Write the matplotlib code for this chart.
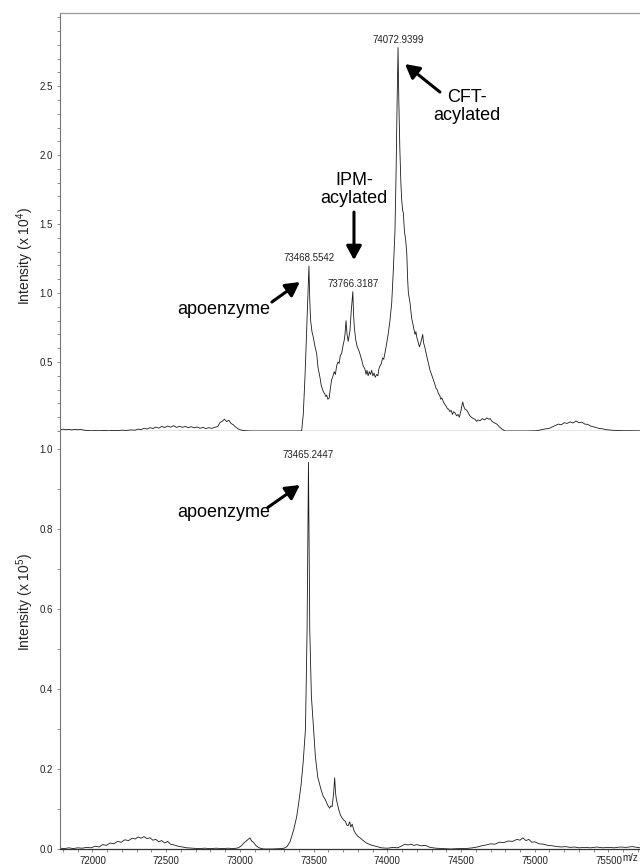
import matplotlib
matplotlib.use("Agg")
import matplotlib.pyplot as plt
from matplotlib.ticker import MultipleLocator, FixedLocator, FormatStrFormatter
import numpy as np

# ---------------- data ----------------
mz_top = [71780, 71800, 71820, 71840, 71860, 71880, 71900, 71920, 71940, 71960,
          71990, 72020, 72050, 72080, 72110, 72140, 72170, 72200, 72230, 72260,
          72290, 72310, 72330, 72350, 72370, 72390, 72410, 72430, 72450, 72470,
          72490, 72510, 72530, 72550, 72570, 72590, 72610, 72630, 72650, 72670,
          72690, 72710, 72730, 72750, 72770, 72790, 72810, 72830, 72850, 72865,
          72880, 72895, 72910, 72925, 72940, 72955, 72970, 72990, 73010, 73040,
          73080, 73150, 73250, 73350, 73419, 73430, 73442, 73455, 73463, 73468.5542,
          73474, 73480, 73489, 73498, 73508, 73521, 73530, 73543, 73552, 73566,
          73575, 73583, 73589, 73597, 73606, 73614, 73622, 73632, 73640, 73648,
          73656, 73665, 73673, 73682, 73690, 73700, 73708, 73713, 73720, 73727,
          73735, 73741, 73747, 73754, 73766.3187, 73771, 73776, 73786, 73796, 73805,
          73814, 73825, 73837, 73848, 73856, 73862, 73870, 73878, 73886, 73894,
          73902, 73910, 73918, 73928, 73936, 73943, 73950, 73960, 73968, 73976,
          73984, 73995, 74007, 74018, 74030, 74041, 74052, 74060, 74066, 74072.9399,
          74078, 74085, 74092, 74098, 74104, 74109, 74116, 74125, 74132, 74138,
          74143, 74154, 74165, 74177, 74188, 74194, 74200, 74210, 74218, 74224,
          74232, 74240, 74246, 74256, 74266, 74279, 74290, 74300, 74313, 74322,
          74330, 74338, 74347, 74355, 74363, 74370, 74381, 74392, 74400, 74408,
          74415, 74425, 74433, 74442, 74450, 74460, 74470, 74480, 74489, 74500,
          74507, 74512, 74518, 74526, 74539, 74550, 74560, 74570, 74584, 74595,
          74605, 74615, 74630, 74645, 74660, 74675, 74690, 74697, 74710, 74725,
          74743, 74760, 74780, 74799, 74870, 74950, 75010, 75040, 75070, 75100,
          75120, 75140, 75160, 75180, 75200, 75220, 75240, 75260, 75280, 75300,
          75320, 75340, 75360, 75380, 75400, 75420, 75440, 75460, 75480, 75500,
          75530, 75560, 75600, 75650, 75714]
int_top = [0.010, 0.013, 0.009, 0.012, 0.008, 0.012, 0.009, 0.011, 0.007, 0.004,
           0.002, 0.003, 0.002, 0.004, 0.002, 0.004, 0.003, 0.006, 0.004, 0.008,
           0.006, 0.014, 0.010, 0.020, 0.014, 0.024, 0.018, 0.028, 0.021, 0.033,
           0.025, 0.036, 0.028, 0.038, 0.026, 0.034, 0.027, 0.033, 0.024, 0.031,
           0.023, 0.029, 0.020, 0.026, 0.018, 0.024, 0.019, 0.027, 0.032, 0.062,
           0.070, 0.086, 0.068, 0.078, 0.055, 0.045, 0.030, 0.015, 0.006, 0.002,
           0.000, 0.000, 0.000, 0.000, 0.000, 0.12, 0.40, 0.80, 1.05, 1.196,
           0.95, 0.80, 0.72, 0.68, 0.62, 0.56, 0.46, 0.39, 0.33, 0.285,
           0.27, 0.25, 0.26, 0.23, 0.24, 0.31, 0.37, 0.40, 0.43, 0.41,
           0.47, 0.50, 0.49, 0.55, 0.56, 0.62, 0.66, 0.70, 0.80, 0.70,
           0.65, 0.69, 0.73, 0.85, 1.01, 0.85, 0.756, 0.66, 0.61, 0.59,
           0.56, 0.52, 0.47, 0.45, 0.41, 0.44, 0.40, 0.43, 0.41, 0.44,
           0.40, 0.42, 0.39, 0.41, 0.40, 0.45, 0.47, 0.49, 0.53, 0.52,
           0.565, 0.63, 0.71, 0.80, 0.93, 1.17, 1.45, 1.90, 2.35, 2.78,
           2.40, 2.05, 1.80, 1.67, 1.60, 1.58, 1.45, 1.38, 1.29, 1.10,
           1.00, 0.93, 0.82, 0.756, 0.70, 0.72, 0.68, 0.64, 0.61, 0.63,
           0.66, 0.70, 0.64, 0.60, 0.55, 0.49, 0.44, 0.41, 0.37, 0.34,
           0.31, 0.30, 0.27, 0.26, 0.23, 0.24, 0.21, 0.19, 0.18, 0.16,
           0.16, 0.14, 0.15, 0.12, 0.14, 0.13, 0.11, 0.12, 0.10, 0.15,
           0.19, 0.21, 0.18, 0.16, 0.15, 0.13, 0.11, 0.10, 0.09, 0.085,
           0.07, 0.08, 0.075, 0.09, 0.08, 0.095, 0.085, 0.09, 0.07, 0.06,
           0.05, 0.03, 0.012, 0.000, 0.000, 0.000, 0.002, 0.008, 0.015, 0.020,
           0.030, 0.040, 0.050, 0.045, 0.060, 0.055, 0.066, 0.058, 0.072, 0.060,
           0.064, 0.050, 0.048, 0.035, 0.030, 0.024, 0.018, 0.016, 0.010, 0.008,
           0.005, 0.004, 0.002, 0.002, 0.001]

mz_bot = [71780, 71810, 71840, 71870, 71900, 71930, 71960, 71990, 72020, 72045,
          72070, 72095, 72120, 72145, 72170, 72195, 72220, 72245, 72270, 72290,
          72310, 72330, 72350, 72370, 72390, 72410, 72430, 72450, 72470, 72490,
          72510, 72530, 72555, 72580, 72610, 72640, 72680, 72720, 72760, 72800,
          72840, 72880, 72920, 72960, 72990, 73010, 73030, 73050, 73068, 73080,
          73092, 73110, 73130, 73160, 73220, 73280, 73300, 73320, 73340, 73365,
          73385, 73399, 73415, 73429, 73445, 73456, 73465.2447, 73474, 73485, 73497,
          73512, 73528, 73551, 73565, 73580, 73595, 73609, 73618, 73626, 73636,
          73643, 73649, 73655, 73663, 73671, 73682, 73694, 73705, 73716, 73725,
          73734, 73745, 73752, 73762, 73772, 73784, 73800, 73818, 73840, 73863,
          73890, 73931, 73960, 74000, 74040, 74070, 74100, 74120, 74140, 74160,
          74180, 74200, 74230, 74260, 74290, 74330, 74380, 74430, 74480, 74530,
          74580, 74610, 74640, 74670, 74700, 74730, 74760, 74790, 74820, 74850,
          74880, 74900, 74920, 74940, 74960, 74980, 75000, 75030, 75060, 75090,
          75120, 75150, 75180, 75210, 75240, 75270, 75300, 75340, 75380, 75420,
          75460, 75500, 75540, 75580, 75620, 75660, 75714]
int_bot = [0.002, 0.001, 0.003, 0.001, 0.003, 0.002, 0.004, 0.003, 0.007, 0.005,
           0.011, 0.009, 0.015, 0.013, 0.019, 0.017, 0.023, 0.021, 0.027, 0.025,
           0.030, 0.027, 0.031, 0.026, 0.028, 0.022, 0.024, 0.018, 0.021, 0.015,
           0.019, 0.012, 0.010, 0.007, 0.005, 0.003, 0.002, 0.001, 0.002, 0.001,
           0.002, 0.001, 0.002, 0.001, 0.003, 0.008, 0.016, 0.022, 0.028, 0.020,
           0.017, 0.008, 0.003, 0.000, 0.000, 0.001, 0.002, 0.006, 0.018, 0.048,
           0.080, 0.115, 0.160, 0.215, 0.300, 0.550, 0.967, 0.550, 0.383, 0.316,
           0.232, 0.180, 0.148, 0.132, 0.123, 0.110, 0.102, 0.108, 0.106, 0.140,
           0.178, 0.140, 0.123, 0.110, 0.098, 0.085, 0.077, 0.072, 0.069, 0.060,
           0.058, 0.068, 0.055, 0.062, 0.048, 0.039, 0.032, 0.027, 0.020, 0.014,
           0.010, 0.006, 0.003, 0.002, 0.004, 0.003, 0.008, 0.012, 0.010, 0.012,
           0.009, 0.011, 0.008, 0.009, 0.004, 0.002, 0.001, 0.000, 0.001, 0.001,
           0.003, 0.005, 0.008, 0.010, 0.013, 0.012, 0.017, 0.016, 0.020, 0.019,
           0.024, 0.022, 0.028, 0.021, 0.024, 0.017, 0.018, 0.013, 0.012, 0.009,
           0.008, 0.006, 0.005, 0.006, 0.004, 0.005, 0.003, 0.004, 0.003, 0.005,
           0.003, 0.004, 0.003, 0.005, 0.004, 0.006, 0.003]

peaks_top = [73468.5542, 73766.3187, 74072.9399]
peaks_bot = [73465.2447]

x_ticks = [72000, 72500, 73000, 73500, 74000, 74500, 75000, 75500]
y_ticks_top = [0.5, 1.0, 1.5, 2.0, 2.5]
y_ticks_bot = [0.0, 0.2, 0.4, 0.6, 0.8, 1.0]

ylabel_top = "Intensity (x 10$^{4}$)"
ylabel_bot = "Intensity (x 10$^{5}$)"
xunit_label = "m/z"

# ---------------- style ----------------
plt.rcParams["font.family"] = ["Liberation Sans", "DejaVu Sans"]
plt.rcParams["mathtext.fontset"] = "custom"
plt.rcParams["mathtext.rm"] = "Liberation Sans"
plt.rcParams["mathtext.it"] = "Liberation Sans"
SMALL = ["Liberation Sans", "DejaVu Sans"]
small_fs = 7
line_col = "#1a1a1a"
spine_col = "#777777"

fig = plt.figure(figsize=(6.4, 8.66), dpi=100)
W, H = 640, 866
ax1 = fig.add_axes([60 / W, 1 - 431 / H, 580 / W, 418 / H])
ax2 = fig.add_axes([60 / W, 1 - 849 / H, 580 / W, 418 / H])

xlim = (71780, 75714)
for ax in (ax1, ax2):
    ax.set_xlim(*xlim)
    ax.spines["right"].set_visible(False)
    ax.spines["left"].set_color(spine_col)
    ax.spines["left"].set_linewidth(0.8)
    ax.tick_params(axis="y", which="both", direction="out", colors=spine_col,
                   labelcolor="#222222", width=0.6)
    ax.tick_params(axis="y", which="major", length=2.5, pad=2.5)
    ax.tick_params(axis="y", which="minor", length=2)

ax1.plot(mz_top, int_top, color=line_col, lw=0.6)
ax2.plot(mz_bot, int_bot, color=line_col, lw=0.6)

ax1.set_ylim(0, 3.03)
ax2.set_ylim(0, 1.045)

ax1.spines["top"].set_color("#999999")
ax1.spines["top"].set_linewidth(0.9)
ax1.spines["bottom"].set_color("#333333")
ax1.spines["bottom"].set_linewidth(0.9)
ax2.spines["top"].set_visible(False)
ax2.spines["bottom"].set_color("#333333")
ax2.spines["bottom"].set_linewidth(0.9)

ax1.tick_params(axis="x", which="both", bottom=False, labelbottom=False)
ax1.yaxis.set_major_locator(FixedLocator(y_ticks_top))
ax1.yaxis.set_minor_locator(MultipleLocator(0.1))
ax1.yaxis.set_major_formatter(FormatStrFormatter("%.1f"))

ax2.yaxis.set_major_locator(FixedLocator(y_ticks_bot))
ax2.yaxis.set_minor_locator(MultipleLocator(0.1))
ax2.yaxis.set_major_formatter(FormatStrFormatter("%.1f"))
ax2.xaxis.set_major_locator(FixedLocator(x_ticks))
ax2.xaxis.set_minor_locator(MultipleLocator(100))
ax2.xaxis.set_major_formatter(FormatStrFormatter("%d"))
ax2.tick_params(axis="x", which="both", direction="out", colors=spine_col,
                labelcolor="#222222", width=0.6)
ax2.tick_params(axis="x", which="major", length=2.5, pad=2.5)
ax2.tick_params(axis="x", which="minor", length=2)

for ax in (ax1, ax2):
    for lab in ax.get_xticklabels() + ax.get_yticklabels():
        lab.set_fontfamily(SMALL)
        lab.set_fontsize(small_fs)

ax2.text((638 - 60) / 580, -0.0215, xunit_label, transform=ax2.transAxes, ha="right",
         va="center", fontsize=small_fs, family=SMALL, color="#222222", clip_on=False)

# peak labels
for mz_list, xs, ys, ax in ((peaks_top, mz_top, int_top, ax1), (peaks_bot, mz_bot, int_bot, ax2)):
    for m in mz_list:
        h = float(np.interp(m, xs, ys))
        ax.annotate(f"{m:.4f}", xy=(m, h), xytext=(0, 5.5), textcoords="offset points",
                    ha="center", va="center", fontsize=small_fs, family=SMALL, color="#222222")

# annotations
arrow_kw = dict(arrowstyle="-|>,head_length=0.7,head_width=0.38", lw=2.2, color="black",
                shrinkA=0, shrinkB=0, mutation_scale=12)
big_fs = 13

ax1.text(74540, 2.35, "CFT-\nacylated", ha="center", va="center", fontsize=big_fs,
         linespacing=1.1)
ax1.annotate("", xy=(74120, 2.66), xytext=(74357, 2.457), arrowprops=arrow_kw)

ax1.text(73774, 1.75, "IPM-\nacylated", ha="center", va="center", fontsize=big_fs,
         linespacing=1.05)
ax1.annotate("", xy=(73774, 1.239), xytext=(73774, 1.587), arrowprops=arrow_kw)

ax1.text(72892, 0.884, "apoenzyme", ha="center", va="center", fontsize=big_fs)
ax1.annotate("", xy=(73407, 1.08), xytext=(73217, 0.935), arrowprops=arrow_kw)

ax2.text(72892, 0.842, "apoenzyme", ha="center", va="center", fontsize=big_fs)
ax2.annotate("", xy=(73407, 0.910), xytext=(73190, 0.854), arrowprops=arrow_kw)

fig.text(25 / W, 1 - 256 / H, ylabel_top, rotation=90, ha="center", va="center",
         fontsize=10, color="#222222")
fig.text(25 / W, 1 - 602 / H, ylabel_bot, rotation=90, ha="center", va="center",
         fontsize=10, color="#222222")

fig.savefig("out.png", dpi=100)
